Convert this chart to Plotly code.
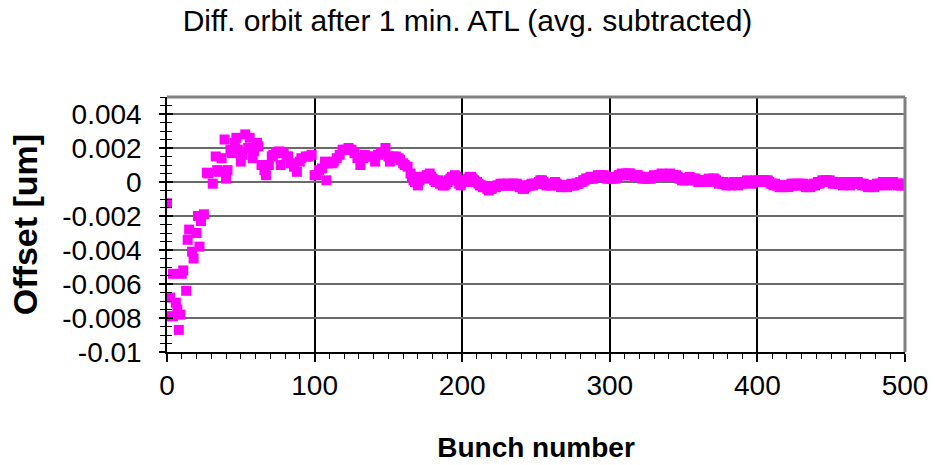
import plotly.graph_objects as go

# Bunch-by-bunch orbit difference after 1 minute of ATL, average removed
bunch = [
    0, 0, 2, 4, 4, 6, 7, 8, 9, 10,
    11, 13, 14, 15, 17, 18, 20, 21, 22, 23,
    25, 27, 28, 31, 33, 34, 35, 37, 39, 40,
    41, 43, 44, 46, 47, 48, 50, 51, 53, 55,
    56, 58, 59, 61, 62, 64, 66, 67, 69, 71,
    72, 74, 76, 77, 79, 81, 82, 84, 86, 88,
    90, 91, 94, 96, 98, 100, 101, 103, 105, 107,
    108, 109, 112, 113, 115, 117, 119, 121, 123, 125,
    127, 129, 131, 133, 134, 137, 139, 141, 143, 145,
    148, 150, 151, 153, 155, 157, 158, 160, 161, 163,
    165, 166, 168, 170, 172, 173, 176, 178, 180, 182,
    184, 186, 188, 190, 192, 195, 197, 199, 201, 203,
    206, 208, 210, 213, 216, 218, 220, 223, 225, 228,
    230, 233, 235, 237, 240, 242, 244, 246, 249, 251,
    254, 256, 259, 261, 263, 266, 269, 272, 275, 277,
    279, 282, 284, 286, 288, 291, 294, 297, 299, 302,
    304, 306, 309, 313, 316, 319, 321, 324, 327, 331,
    334, 337, 340, 343, 346, 350, 353, 357, 361, 365,
    368, 371, 375, 378, 381, 385, 388, 392, 395, 398,
    402, 405, 408, 410, 413, 415, 419, 422, 425, 429,
    432, 434, 437, 440, 443, 447, 450, 454, 457, 460,
    464, 467, 470, 474, 477, 480, 484, 487, 491, 494,
    497, 500,
]
offset = [
    -0.00125, -0.0079, -0.0068, -0.0054, -0.0079, -0.0071, -0.0075, -0.0087, -0.0078, -0.0054,
    -0.0052, -0.0064, -0.0034, -0.0028, -0.0041, -0.0045, -0.0030, -0.0020, -0.0038, -0.0023,
    -0.0019, 0.00055, 0.0005, -0.0001, 0.0015, 0.0007, 0.0006, 0.0014, 0.0025, 0.0002,
    0.0007, 0.0019, 0.0017, 0.0023, 0.0026, 0.0019, 0.0012, 0.0016, 0.0028, 0.0020,
    0.0026, 0.0014, 0.0018, 0.0023, 0.0021, 0.0010, 0.0007, 0.0004, 0.0010, 0.0015,
    0.0016, 0.0017, 0.0018, 0.0010, 0.0017, 0.0015, 0.0015, 0.0011, 0.0009, 0.0006,
    0.0012, 0.0014, 0.0015, 0.0015, 0.0016, 0.0004, 0.0004, 0.0007, 0.0008, 0.0012,
    0.0001, 0.0011, 0.0011, 0.0012, 0.0014, 0.0016, 0.0019, 0.0019, 0.0020, 0.0019,
    0.0017, 0.0014, 0.0010, 0.0014, 0.0016, 0.0015, 0.0015, 0.0012, 0.0016, 0.0017,
    0.0020, 0.0015, 0.0012, 0.0015, 0.0015, 0.0014, 0.0013, 0.0011, 0.0010, 0.0009,
    0.0005, 0.0003, 0.0000, -0.0002, 0.0003, 0.0002, 0.0004, 0.0005, 0.0002, 0.0000,
    0.0001, -0.0001, -0.0002, 0.0000, 0.0002, 0.0004, 0.0001, -0.0002, 0.0001, 0.0000,
    0.0003, 0.0001, 0.0000, -0.0002, -0.0003, -0.0005, -0.0004, -0.0003, -0.0002, -0.0001,
    -0.0002, -0.0002, -0.0001, -0.0001, -0.0003, -0.0004, -0.0002, -0.0002, -0.0001, -0.0001,
    0.0001, -0.0001, -0.0002, -0.0001, 0.0000, -0.0002, -0.0003, -0.0002, -0.0002, -0.0001,
    -0.0001, 0.0001, 0.0002, 0.0002, 0.0002, 0.0003, 0.0004, 0.0003, 0.0002, 0.0002,
    0.0002, 0.0004, 0.0004, 0.0005, 0.0004, 0.0004, 0.0003, 0.0002, 0.0002, 0.0003,
    0.0004, 0.0004, 0.0004, 0.0004, 0.0003, 0.0001, 0.0002, 0.0002, 0.0001, 0.0000,
    0.0001, 0.0002, 0.0000, -0.0001, -0.0001, -0.0001, -0.0001, 0.0000, 0.0000, 0.0000,
    0.0001, 0.0001, 0.0000, -0.0001, -0.0002, -0.0003, -0.0002, -0.0002, -0.0001, -0.0001,
    -0.0002, -0.0003, -0.0002, -0.0001, 0.0000, 0.0001, 0.0000, 0.0000, -0.0001, -0.0001,
    -0.0001, 0.0000, -0.0001, -0.0002, -0.0003, -0.0002, -0.0001, -0.0001, 0.0000, -0.0001,
    -0.0002, -0.0001,
]

# remaining bunches of the settled tail (bunch 167 onwards)
bunch_tail = [
    167, 171, 174, 177, 179, 181, 183, 185, 187, 189,
    191, 193, 196, 198, 200, 202, 204, 205, 207, 209,
    211, 212, 214, 215, 217, 219, 221, 222, 224, 226,
    227, 229, 231, 232, 234, 236, 238, 239, 241, 243,
    245, 247, 248, 250, 252, 253, 255, 257, 258, 260,
    262, 264, 265, 267, 268, 270, 271, 273, 274, 276,
    278, 280, 281, 283, 285, 287, 289, 290, 292, 293,
    295, 296, 298, 300, 301, 303, 305, 307, 308, 310,
    311, 312, 314, 315, 317, 318, 320, 322, 323, 325,
    326, 328, 329, 330, 332, 333, 335, 336, 338, 339,
    341, 342, 344, 345, 347, 348, 349, 351, 352, 354,
    355, 356, 358, 359, 360, 362, 363, 364, 366, 367,
    369, 370, 372, 373, 374, 376, 377, 379, 380, 382,
    383, 384, 386, 387, 389, 390, 391, 393, 394, 396,
    397, 399, 400, 401, 403, 404, 406, 407, 409, 411,
    412, 414, 416, 417, 418, 420, 421, 423, 424, 426,
    427, 428, 430, 431, 433, 435, 436, 438, 439, 441,
    442, 444, 445, 446, 448, 449, 451, 452, 453, 455,
    456, 458, 459, 461, 462, 463, 465, 466, 468, 469,
    471, 472, 473, 475, 476, 478, 479, 481, 482, 483,
    485, 486, 488, 489, 490, 492, 493, 495, 496, 498,
    499,
]
offset_tail = [
    0.0001, 0.0001, 0.0003, 0.0004, 0.0003, 0.0001, 0.0000, -0.0001, -0.0002, -0.0001,
    0.0001, 0.0003, 0.0003, -0.0001, 0.0000, 0.0001, 0.0002, 0.0003, 0.0002, 0.0000,
    -0.0001, -0.0002, -0.0003, -0.0003, -0.0004, -0.0004, -0.0003, -0.0003, -0.0002, -0.0001,
    -0.0002, -0.0002, -0.0001, -0.0002, -0.0001, -0.0002, -0.0002, -0.0003, -0.0004, -0.0003,
    -0.0002, -0.0001, -0.0002, -0.0001, 0.0000, 0.0001, 0.0000, -0.0002, -0.0001, -0.0002,
    -0.0001, -0.0001, -0.0002, -0.0003, -0.0002, -0.0002, -0.0003, -0.0002, -0.0001, -0.0002,
    -0.0001, 0.0000, 0.0000, 0.0001, 0.0002, 0.0003, 0.0002, 0.0003, 0.0004, 0.0003,
    0.0003, 0.0004, 0.0002, 0.0003, 0.0002, 0.0003, 0.0003, 0.0004, 0.0005, 0.0004,
    0.0005, 0.0004, 0.0005, 0.0004, 0.0003, 0.0004, 0.0003, 0.0002, 0.0003, 0.0002,
    0.0003, 0.0002, 0.0003, 0.0004, 0.0003, 0.0004, 0.0005, 0.0004, 0.0003, 0.0004,
    0.0005, 0.0004, 0.0003, 0.0004, 0.0002, 0.0002, 0.0001, 0.0002, 0.0001, 0.0003,
    0.0002, 0.0001, 0.0002, 0.0001, 0.0000, 0.0001, 0.0000, 0.0001, 0.0000, 0.0002,
    0.0001, 0.0002, 0.0001, 0.0000, -0.0001, -0.0001, 0.0000, -0.0002, -0.0001, -0.0002,
    -0.0001, 0.0000, -0.0001, -0.0002, 0.0000, -0.0001, 0.0000, 0.0001, 0.0000, -0.0001,
    0.0000, 0.0001, 0.0000, 0.0001, 0.0000, 0.0001, 0.0000, 0.0001, -0.0001, -0.0002,
    -0.0001, -0.0002, -0.0003, -0.0002, -0.0003, -0.0002, -0.0003, -0.0001, -0.0002, -0.0002,
    -0.0001, -0.0002, -0.0002, -0.0001, -0.0003, -0.0002, -0.0003, -0.0001, -0.0002, 0.0000,
    -0.0001, 0.0001, 0.0000, 0.0001, 0.0000, 0.0001, -0.0001, 0.0000, -0.0001, 0.0000,
    -0.0001, -0.0002, -0.0001, 0.0000, -0.0001, -0.0002, 0.0000, -0.0001, 0.0000, -0.0001,
    -0.0002, -0.0001, -0.0002, -0.0003, -0.0002, -0.0002, -0.0003, -0.0001, -0.0002, -0.0001,
    0.0000, -0.0001, -0.0002, 0.0000, -0.0001, 0.0000, -0.0001, -0.0002, -0.0001, -0.0002,
    -0.0001,
]
assert len(bunch) == len(offset) and len(bunch_tail) == len(offset_tail)

x_ticks = [0, 100, 200, 300, 400, 500]
y_ticks = [0.004, 0.002, 0, -0.002, -0.004, -0.006, -0.008, -0.01]
y_tick_text = ["0.004", "0.002", "0", "-0.002", "-0.004", "-0.006", "-0.008", "-0.01"]

FONT = "Liberation Sans, Arial, sans-serif"
Y_RANGE = [-0.01, 0.005]

fig = go.Figure()
fig.add_trace(go.Scatter(
    x=bunch + bunch_tail, y=offset + offset_tail, mode="markers",
    marker=dict(symbol="square", size=10, color="#FF00FF", line=dict(width=0)),
    hoverinfo="x+y", showlegend=False,
))
# companion axis carrying the inward half of the y ticks
fig.add_trace(go.Scatter(x=[None], y=[None], yaxis="y2", showlegend=False, hoverinfo="skip"))

fig.update_layout(
    width=935, height=465,
    margin=dict(l=167, r=30, t=97, b=113, autoexpand=False),
    paper_bgcolor="white", plot_bgcolor="white",
    font=dict(family=FONT, color="black"),
    title=dict(
        text="Diff. orbit after 1 min. ATL (avg. subtracted)",
        font=dict(size=30, family=FONT, color="black"),
        x=0.5, xanchor="center", xref="container",
        y=1 - 20 / 465, yanchor="middle", yref="container",
    ),
    xaxis=dict(
        range=[0, 500], tickvals=x_ticks, automargin=False,
        ticks="outside", ticklen=8, tickwidth=1.5, tickcolor="black",
        minor=dict(dtick=10, ticks="outside", ticklen=5, tickwidth=1, tickcolor="black", showgrid=False),
        showline=True, linecolor="black", linewidth=1.5,
        showgrid=True, gridcolor="black", gridwidth=1.5,
        zeroline=False,
        tickfont=dict(size=28, family=FONT),
        ticklabelstandoff=0,
        title=dict(text="<b>Bunch number</b>", font=dict(size=28, family=FONT), standoff=37),
    ),
    yaxis=dict(
        range=Y_RANGE, tickvals=y_ticks, ticktext=y_tick_text, automargin=False,
        ticks="outside", ticklen=6, tickwidth=1.5, tickcolor="black",
        minor=dict(dtick=0.0005, tick0=0, ticks="outside", ticklen=5, tickwidth=1, tickcolor="black", showgrid=False),
        showline=True, linecolor="black", linewidth=1.5,
        showgrid=True, gridcolor="#6a6a6a", gridwidth=2,
        zeroline=False,
        tickfont=dict(size=28, family=FONT),
        ticklabelstandoff=12,
        title=dict(text="<b>Offset [um]</b>", font=dict(size=34, family=FONT), standoff=14),
    ),
    yaxis2=dict(
        range=Y_RANGE, overlaying="y", side="left",
        tickvals=y_ticks, showticklabels=False,
        ticks="inside", ticklen=6, tickwidth=1.5, tickcolor="black",
        minor=dict(dtick=0.0005, tick0=0, ticks="inside", ticklen=5, tickwidth=1, tickcolor="black"),
        showgrid=False, zeroline=False, showline=False,
    ),
    shapes=[
        dict(type="line", xref="paper", yref="paper", x0=0, x1=1, y0=1, y1=1,
             line=dict(color="#808080", width=3)),
        dict(type="line", xref="paper", yref="paper", x0=1, x1=1, y0=0, y1=1,
             line=dict(color="#808080", width=3)),
    ],
)

fig.write_html("out.html")
